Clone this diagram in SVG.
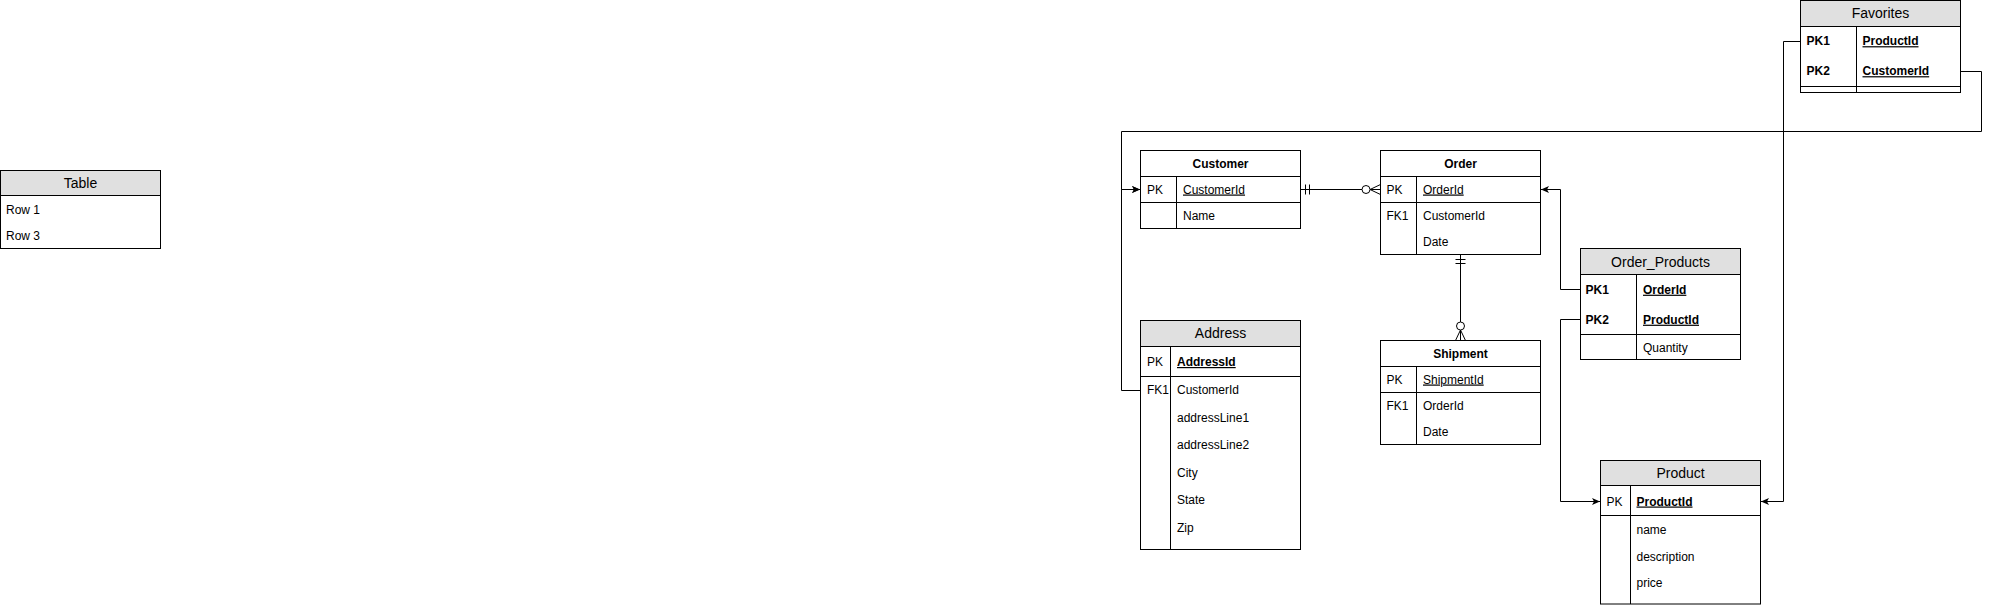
<svg xmlns="http://www.w3.org/2000/svg" width="1990" height="605" viewBox="0 0 1990 605">
<style>
text{font-family:"Liberation Sans",Arial,Helvetica,sans-serif;font-size:12px;fill:#000}
.h{font-size:14px;text-anchor:middle}
.hb{font-weight:bold;text-anchor:middle}
.b{font-weight:bold}
.u{text-decoration:underline}
.box{fill:#fff;stroke:#000;stroke-width:1}
.hd{fill:#e0e0e0;stroke:#000;stroke-width:1}
.ln{fill:none;stroke:#000;stroke-width:1}
.edge{fill:none;stroke:#000;stroke-width:1}
</style>
<defs>
<marker id="arr" viewBox="0 0 8 8" refX="8" refY="4" markerWidth="8" markerHeight="8" markerUnits="userSpaceOnUse" orient="auto">
<path d="M0,0.5 L8,4 L0,7.5 L2,4 Z" fill="#000"/>
</marker>
</defs>

<g id="connectors">
<path class="edge" d="M1140.5,390.5 H1121.5 V189.5 H1140" marker-end="url(#arr)"/>
<path class="edge" d="M1960.5,71.5 H1981.5 V131.5 H1121.5 V189.5 H1140" marker-end="url(#arr)"/>
<path class="edge" d="M1800.5,41.5 H1783.5 V501.5 H1761" marker-end="url(#arr)"/>
<path class="edge" d="M1580.5,289.5 H1560.5 V189.5 H1541" marker-end="url(#arr)"/>
<path class="edge" d="M1580.5,319.5 H1560.5 V501.5 H1600" marker-end="url(#arr)"/>
<g id="rel-customer-order">
<path class="edge" d="M1300.5,189.5 H1362"/>
<path class="edge" d="M1305.5,184.5 V194.5 M1309.5,184.5 V194.5"/>
<circle cx="1366" cy="189.5" r="4" fill="#fff" stroke="#000"/>
<path class="edge" d="M1370,189.5 H1380.5 M1370,189.5 L1380.5,184.5 M1370,189.5 L1380.5,194.5"/>
</g>
<g id="rel-order-shipment">
<path class="edge" d="M1460.5,254.5 V322"/>
<path class="edge" d="M1455.5,259.5 H1465.5 M1455.5,263.5 H1465.5"/>
<circle cx="1460.5" cy="326" r="4" fill="#fff" stroke="#000"/>
<path class="edge" d="M1460.5,330 V340.5 M1460.5,330 L1455.5,340.5 M1460.5,330 L1465.5,340.5"/>
</g>
</g>

<g id="table">
<rect class="box" x="0.5" y="170.5" width="160" height="78"/>
<rect class="hd" x="0.5" y="170.5" width="160" height="25"/>
<text class="h" x="80.5" y="187.5">Table</text>
<text x="6" y="214">Row 1</text>
<text x="6" y="240">Row 3</text>
</g>

<g id="customer">
<rect class="box" x="1140.5" y="150.5" width="160" height="78"/>
<path class="ln" d="M1140.5,176.5 H1300.5 M1140.5,202.5 H1300.5 M1176.5,176.5 V228.5"/>
<text class="hb" x="1220.5" y="167.5">Customer</text>
<text x="1147" y="193.5">PK</text>
<text class="u" x="1183" y="193.5">CustomerId</text>
<text x="1183" y="219.5">Name</text>
</g>

<g id="order">
<rect class="box" x="1380.5" y="150.5" width="160" height="104"/>
<path class="ln" d="M1380.5,176.5 H1540.5 M1380.5,202.5 H1540.5 M1416.5,176.5 V254.5"/>
<text class="hb" x="1460.5" y="167.5">Order</text>
<text x="1386.5" y="193.5">PK</text>
<text class="u" x="1423" y="193.5">OrderId</text>
<text x="1386.5" y="219.5">FK1</text>
<text x="1423" y="219.5">CustomerId</text>
<text x="1423" y="245.5">Date</text>
</g>

<g id="shipment">
<rect class="box" x="1380.5" y="340.5" width="160" height="104"/>
<path class="ln" d="M1380.5,366.5 H1540.5 M1380.5,392.5 H1540.5 M1416.5,366.5 V444.5"/>
<text class="hb" x="1460.5" y="358">Shipment</text>
<text x="1386.5" y="383.5">PK</text>
<text class="u" x="1423" y="383.5">ShipmentId</text>
<text x="1386.5" y="409.5">FK1</text>
<text x="1423" y="409.5">OrderId</text>
<text x="1423" y="435.5">Date</text>
</g>

<g id="address">
<rect class="box" x="1140.5" y="320.5" width="160" height="229"/>
<rect class="hd" x="1140.5" y="320.5" width="160" height="26"/>
<path class="ln" d="M1140.5,376.5 H1300.5 M1170.5,346.5 V549.5"/>
<text class="h" x="1220.5" y="338">Address</text>
<text x="1147" y="366">PK</text>
<text class="b u" x="1177" y="366">AddressId</text>
<text x="1147" y="394">FK1</text>
<text x="1177" y="394">CustomerId</text>
<text x="1177" y="421.5">addressLine1</text>
<text x="1177" y="449">addressLine2</text>
<text x="1177" y="476.5">City</text>
<text x="1177" y="504">State</text>
<text x="1177" y="531.5">Zip</text>
</g>

<g id="order_products">
<rect class="box" x="1580.5" y="248.5" width="160" height="111"/>
<rect class="hd" x="1580.5" y="248.5" width="160" height="26"/>
<path class="ln" d="M1580.5,334.5 H1740.5 M1636.5,274.5 V359.5"/>
<text class="h" x="1660.5" y="266.5">Order_Products</text>
<text class="b" x="1585.5" y="293.7">PK1</text>
<text class="b u" x="1643" y="293.7">OrderId</text>
<text class="b" x="1585.5" y="323.7">PK2</text>
<text class="b u" x="1643" y="323.7">ProductId</text>
<text x="1643" y="351.5">Quantity</text>
</g>

<g id="product">
<rect class="box" x="1600.5" y="460.5" width="160" height="143.5"/>
<rect class="hd" x="1600.5" y="460.5" width="160" height="25"/>
<path class="ln" d="M1600.5,515.5 H1760.5 M1630.5,485.5 V604"/>
<text class="h" x="1680.5" y="478">Product</text>
<text x="1606.5" y="505.5">PK</text>
<text class="b u" x="1636.5" y="505.5">ProductId</text>
<text x="1636.5" y="534">name</text>
<text x="1636.5" y="561">description</text>
<text x="1636.5" y="587">price</text>
</g>

<g id="favorites">
<rect class="box" x="1800.5" y="0.5" width="160" height="92"/>
<rect class="hd" x="1800.5" y="0.5" width="160" height="26"/>
<path class="ln" d="M1800.5,86.5 H1960.5 M1856.5,26.5 V92.5"/>
<text class="h" x="1880.5" y="18">Favorites</text>
<text class="b" x="1806.5" y="45.2">PK1</text>
<text class="b u" x="1862.5" y="45.2">ProductId</text>
<text class="b" x="1806.5" y="75.2">PK2</text>
<text class="b u" x="1862.5" y="75.2">CustomerId</text>
</g>
</svg>
